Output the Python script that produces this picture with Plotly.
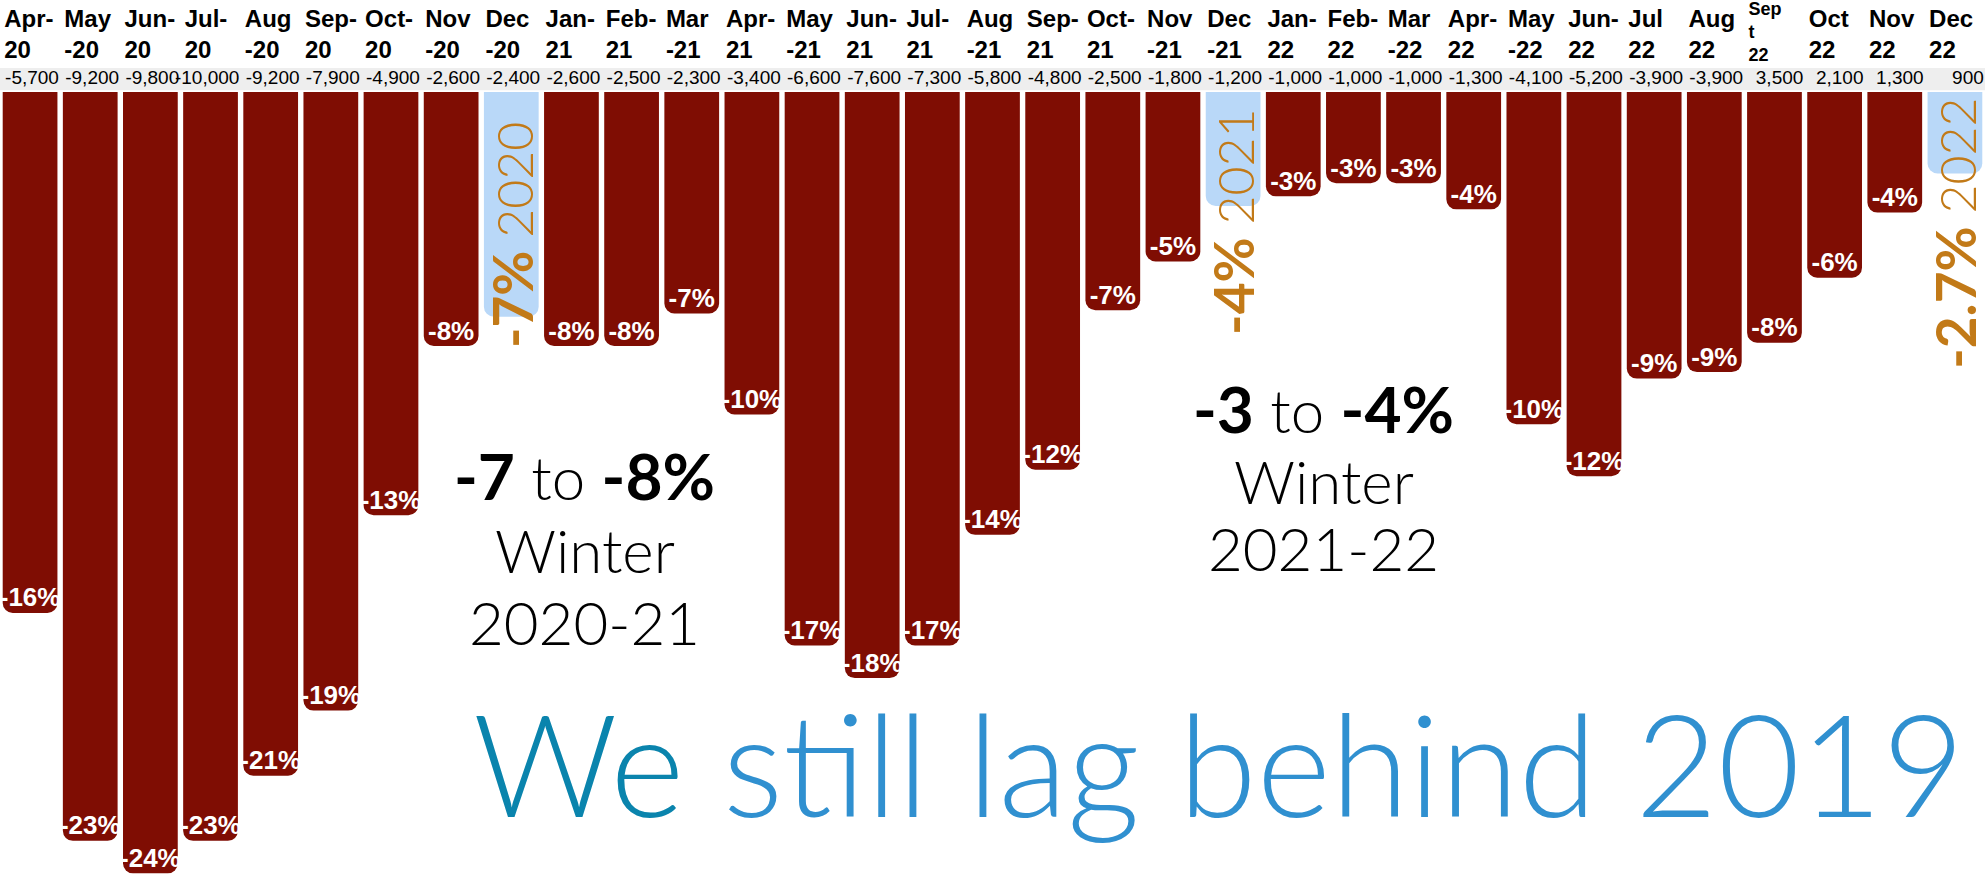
import plotly.graph_objects as go

# Monthly change vs. same month of 2019
month_labels = [
    "Apr-<br>20", "May<br>-20", "Jun-<br>20", "Jul-<br>20", "Aug<br>-20", "Sep-<br>20",
    "Oct-<br>20", "Nov<br>-20", "Dec<br>-20", "Jan-<br>21", "Feb-<br>21", "Mar<br>-21",
    "Apr-<br>21", "May<br>-21", "Jun-<br>21", "Jul-<br>21", "Aug<br>-21", "Sep-<br>21",
    "Oct-<br>21", "Nov<br>-21", "Dec<br>-21", "Jan-<br>22", "Feb-<br>22", "Mar<br>-22",
    "Apr-<br>22", "May<br>-22", "Jun-<br>22", "Jul<br>22", "Aug<br>22", "Sep<br>t<br>22",
    "Oct<br>22", "Nov<br>22", "Dec<br>22",
]
change_counts = [
    -5700, -9200, -9800, -10000, -9200, -7900, -4900, -2600, -2400, -2600, -2500, -2300,
    -3400, -6600, -7600, -7300, -5800, -4800, -2500, -1800, -1200, -1000, -1000, -1000,
    -1300, -4100, -5200, -3900, -3900, 3500, 2100, 1300, 900,
]
pct_change = [
    -16.0, -23.0, -24.0, -23.0, -21.0, -19.0, -13.0, -7.8, -6.9, -7.8, -7.8, -6.8,
    -9.9, -17.0, -18.0, -17.0, -13.6, -11.6, -6.7, -5.2, -3.5, -3.2, -2.8, -2.8,
    -3.6, -10.2, -11.8, -8.8, -8.6, -7.7, -5.7, -3.7, -2.5,
]
pct_labels = [
    "-16%", "-23%", "-24%", "-23%", "-21%", "-19%", "-13%", "-8%", "-7%", "-8%", "-8%", "-7%",
    "-10%", "-17%", "-18%", "-17%", "-14%", "-12%", "-7%", "-5%", "-4%", "-3%", "-3%", "-3%",
    "-4%", "-10%", "-12%", "-9%", "-9%", "-8%", "-6%", "-4%", "-2.7%",
]
highlight_idx = [8, 20, 32]
highlight_years = ["2020", "2021", "2022"]
highlight_top = [-0.85, -0.45, -0.1]   # where the rotated label starts

BAR_RED = "#7F0D03"
HILITE = "#B9D8F8"
ORANGE = "#C27A18"
NARROW = "Liberation Sans Narrow, Liberation Sans, Arial"
AVENIR = "Lato, Noto Sans, sans-serif"

x = list(range(len(month_labels)))
bar_colors = [HILITE if i in highlight_idx else BAR_RED for i in x]
bar_text = ["" if i in highlight_idx else pct_labels[i] for i in x]

# three-line header cells are squeezed like in the spreadsheet
n_lines = [lab.count("<br>") + 1 for lab in month_labels]
head_size = [18 if n > 2 else 24 for n in n_lines]
head_y = [1.80 if n > 2 else 1.72 for n in n_lines]

fig = go.Figure()

fig.add_trace(go.Bar(
    x=x, y=pct_change, width=0.91,
    marker=dict(color=bar_colors, cornerradius=10, line_width=0),
    hoverinfo="skip",
))

# percent labels sitting at the end of each bar
fig.add_trace(go.Scatter(
    x=x, y=pct_change, mode="text", text=bar_text, textposition="top center",
    textfont=dict(family=NARROW, size=26, color="white", weight="bold"),
    cliponaxis=False, hoverinfo="skip",
))

# month header
fig.add_trace(go.Scatter(
    x=[i - 0.43 for i in x], y=head_y, mode="text",
    text=month_labels, textposition="middle right",
    textfont=dict(family=NARROW, size=head_size, color="black", weight="bold"),
    cliponaxis=False, hoverinfo="skip",
))

# change counts in the grey band
fig.add_trace(go.Scatter(
    x=[i + 0.48 for i in x], y=[0.40] * len(x), mode="text",
    text=[f"{v:,}" for v in change_counts], textposition="middle left",
    textfont=dict(family=NARROW, size=19, color="black"),
    cliponaxis=False, hoverinfo="skip",
))

annotations = []
for i, year, top in zip(highlight_idx, highlight_years, highlight_top):
    annotations.append(dict(
        xref="x", yref="y", x=i, y=top, xanchor="center", yanchor="top",
        textangle=-90, showarrow=False,
        text=(f"<b><span style='font-size:55px'>{pct_labels[i]}</span></b>"
              f" <span style='font-weight:300'>{year}</span>"),
        font=dict(family=AVENIR, size=50, color=ORANGE),
    ))

big = dict(family=AVENIR, size=60, color="black", weight=300)
bold = "<b><span style='font-size:64px'>{}</span></b>"
blocks = [
    (0.2947, [(0.457, bold.format("-7") + " to " + bold.format("-8%")), (0.371, "Winter"), (0.289, "2020-21")]),
    (0.667, [(0.533, bold.format("-3") + " to " + bold.format("-4%")), (0.450, "Winter"), (0.374, "2021-22")]),
]
for xx, lines in blocks:
    for yy, t in lines:
        annotations.append(dict(xref="paper", yref="paper", x=xx, y=yy,
                                xanchor="center", yanchor="middle",
                                text=t, font=big, showarrow=False))

annotations.append(dict(
    xref="paper", yref="paper", x=0.614, y=0.129, xanchor="center", yanchor="middle",
    text="<span style='color:#0A84AD'>We</span> still lag behind 2019",
    font=dict(family=AVENIR, size=142, color="#3090D0", weight=300), showarrow=False,
))

fig.update_layout(
    width=1985, height=875,
    margin=dict(l=0, r=0, t=0, b=0),
    paper_bgcolor="white", plot_bgcolor="white",
    showlegend=False,
    xaxis=dict(range=[-0.5, 32.5], visible=False, fixedrange=True),
    yaxis=dict(range=[-24.05, 2.83], visible=False, fixedrange=True),
    shapes=[dict(type="rect", xref="paper", yref="y", x0=0, x1=1, y0=0.06, y1=0.74,
                 fillcolor="#EEEEEE", line_width=0, layer="below")],
    annotations=annotations,
)

fig.write_html("out.html", config={"displayModeBar": False},
               post_script="document.body.style.margin='0';")
